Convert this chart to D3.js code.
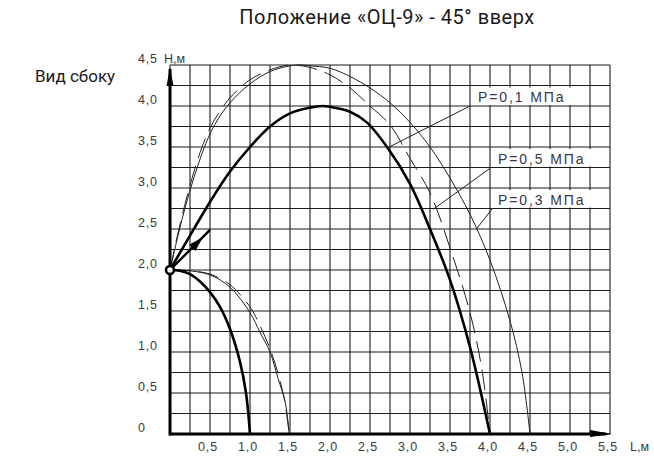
<!DOCTYPE html>
<html><head><meta charset="utf-8">
<script src="https://cdn.jsdelivr.net/npm/d3@7"></script>
<style>
html,body{margin:0;padding:0;background:#fff;}
svg{display:block;}
</style></head>
<body>
<svg id="c" width="654" height="456"></svg>
<script>
// ---- data ----
const title = "Положение «ОЦ-9» - 45° вверх";
const sideLabel = "Вид сбоку";
const xTicks = [0.5,1.0,1.5,2.0,2.5,3.0,3.5,4.0,4.5,5.0,5.5];
const xTickLabels = ["0,5","1,0","1,5","2,0","2,5","3,0","3,5","4,0","4,5","5,0","5,5"];
const yTicks = [0,0.5,1.0,1.5,2.0,2.5,3.0,3.5,4.0,4.5];
const yTickLabels = ["0","0,5","1,0","1,5","2,0","2,5","3,0","3,5","4,0","4,5"];
const xUnit = "L,м", yUnit = "Н,м";

// P=0,1 МПа (thick)
const p1UpL = [0,0.25,0.5,0.75,1.0,1.25,1.5,1.75,1.9,2.0,2.25,2.46,2.72,3.0,3.25,3.5,3.75,4.0];
const p1UpH = [2.0,2.42,2.83,3.2,3.5,3.75,3.91,3.98,4.0,3.99,3.93,3.8,3.49,3.05,2.5,1.88,1.06,0.0];
const p1LoL = [0,0.125,0.25,0.375,0.5,0.625,0.75,0.875,0.95,1.0];
const p1LoH = [2.0,1.99,1.95,1.86,1.73,1.55,1.28,0.88,0.5,0.0];
// P=0,3 МПа (thin)
const p3UpL = [0,0.1,0.2,0.3,0.4,0.5,0.6,0.75,1.0,1.25,1.5,1.65,1.75,2.0,2.25,2.5,2.75,3.0,3.25,3.5,3.75,4.0,4.25,4.4,4.5];
const p3UpH = [2.0,2.42,2.8,3.13,3.42,3.66,3.84,4.04,4.27,4.42,4.49,4.5,4.49,4.46,4.36,4.22,4.04,3.8,3.5,3.12,2.68,2.12,1.38,0.75,0.0];
const p3LoL = [0,0.25,0.5,0.75,1.0,1.125,1.25,1.35,1.44,1.49];
const p3LoH = [2.0,1.99,1.94,1.79,1.48,1.24,1.0,0.68,0.39,0.0];
// P=0,5 МПа (dashed)
const p5UpL = [0,0.1,0.2,0.3,0.4,0.5,0.6,0.75,1.0,1.25,1.5,1.75,2.0,2.25,2.5,2.75,3.0,3.25,3.5,3.75,3.9,4.0];
const p5UpH = [2.0,2.45,2.85,3.2,3.5,3.73,3.9,4.1,4.32,4.44,4.5,4.47,4.38,4.22,4.0,3.77,3.36,2.94,2.27,1.48,0.78,0.0];
const p5LoL = [0,0.25,0.5,0.75,1.0,1.125,1.25,1.35,1.43,1.49];
const p5LoH = [2.0,1.99,1.95,1.82,1.55,1.32,1.04,0.74,0.42,0.0];

const labels = ["P=0,1 МПа","P=0,5 МПа","P=0,3 МПа"];
const labelL = [3.75,4.0,4.0];
const labelH = [4.0,3.25,2.75];
const leaderFromL = [3.75,4.0,4.03];
const leaderFromH = [4.0,3.24,2.75];
const leaderToL = [2.72,3.29,3.83];
const leaderToH = [3.49,2.74,2.5];

// ---- drawing ----
const svg = d3.select("#c");
const x = d3.scaleLinear().domain([0,5.5]).range([170,610]);
const y = d3.scaleLinear().domain([0,4.5]).range([434,65]);

const g = svg.append("g");
g.selectAll("line.v").data(d3.range(0,23).map(i=>i*0.25)).join("line")
  .attr("x1",d=>x(d)).attr("x2",d=>x(d)).attr("y1",y(0)).attr("y2",y(4.5))
  .attr("stroke","#1a1a1a").attr("stroke-width",1.1);
g.selectAll("line.h").data(d3.range(0,19).map(i=>i*0.25)).join("line")
  .attr("x1",x(0)).attr("x2",x(5.5)).attr("y1",d=>y(d)).attr("y2",d=>y(d))
  .attr("stroke","#1a1a1a").attr("stroke-width",1.1);

labels.forEach((t,i)=>{
  svg.append("rect").attr("x",x(labelL[i])+2).attr("y",y(labelH[i]+0.25)+2)
    .attr("width",100).attr("height",y(labelH[i])-y(labelH[i]+0.25)-3)
    .attr("fill","#fff");
});

const line = d3.line().x(d=>x(d[0])).y(d=>y(d[1])).curve(d3.curveCatmullRom.alpha(0.5));
const zip=(a,b)=>a.map((v,i)=>[v,b[i]]);
function curve(L,H,w,dash,col){
  svg.append("path").attr("d",line(zip(L,H))).attr("fill","none")
    .attr("stroke",col).attr("stroke-width",w)
    .attr("stroke-dasharray",dash||null).attr("stroke-linecap","round");
}
curve(p3UpL,p3UpH,1,null,"#222");
curve(p3LoL,p3LoH,1,null,"#222");
curve(p5UpL,p5UpH,1,"20,9","#222");
curve(p5LoL,p5LoH,1,"20,9","#222");
curve(p1UpL,p1UpH,2.6,null,"#000");
curve(p1LoL,p1LoH,2.6,null,"#000");

labels.forEach((t,i)=>{
  svg.append("line").attr("x1",x(leaderFromL[i])).attr("y1",y(leaderFromH[i]))
    .attr("x2",x(leaderToL[i])).attr("y2",y(leaderToH[i]))
    .attr("stroke","#222").attr("stroke-width",1);
});
labels.forEach((t,i)=>{
  svg.append("text").attr("x",x(labelL[i])+8).attr("y",y(labelH[i])-4)
    .attr("font-family","Liberation Sans, Arial, sans-serif").attr("font-size",14)
    .attr("letter-spacing",1.9).attr("fill","#3a3548").text(t);
});

svg.append("line").attr("x1",x(0)).attr("x2",x(5.5)-4).attr("y1",y(0)).attr("y2",y(0))
  .attr("stroke","#000").attr("stroke-width",3);
svg.append("line").attr("x1",x(0)).attr("x2",x(0)).attr("y1",y(0)+1.5).attr("y2",y(4.5)+4)
  .attr("stroke","#000").attr("stroke-width",3);
svg.append("path").attr("d",`M${x(5.5)+2},${y(0)} L${x(5.5)-20},${y(0)-4} L${x(5.5)-20},${y(0)+3} Z`).attr("fill","#000");
svg.append("path").attr("d",`M${x(0)},${y(4.5)+2} L${x(0)-3.5},${y(4.5)+21} L${x(0)+3.5},${y(4.5)+21} Z`).attr("fill","#000");

const ax0=[0,2.0], ax1=[0.5,2.49], ahTip=[0.41,2.4];
svg.append("line").attr("x1",x(ax0[0])).attr("y1",y(ax0[1])).attr("x2",x(ax1[0])).attr("y2",y(ax1[1]))
  .attr("stroke","#000").attr("stroke-width",2.4);
{
  const tx=x(ahTip[0]), ty=y(ahTip[1]);
  const ang=Math.atan2(y(ax1[1])-y(ax0[1]), x(ax1[0])-x(ax0[0]));
  const len=15, hw=4.5;
  const bx=tx-len*Math.cos(ang), by=ty-len*Math.sin(ang);
  const px=-Math.sin(ang)*hw, py=Math.cos(ang)*hw;
  svg.append("path").attr("d",`M${tx},${ty} L${bx+px},${by+py} L${bx-px},${by-py} Z`).attr("fill","#000");
}
svg.append("circle").attr("cx",x(0)).attr("cy",y(2.0)).attr("r",4)
  .attr("fill","#fff").attr("stroke","#000").attr("stroke-width",2.6);

const tf = "Liberation Sans, Arial, sans-serif";
svg.selectAll("text.xt").data(xTicks).join("text")
  .attr("x",d=>x(d)-2).attr("y",y(0)+17).attr("text-anchor","middle")
  .attr("font-family",tf).attr("font-size",12.5).attr("letter-spacing",0.8).attr("fill","#3a3a3a")
  .text((d,i)=>xTickLabels[i]);
svg.append("text").attr("x",x(5.5)+20).attr("y",y(0)+17)
  .attr("font-family",tf).attr("font-size",12.5).attr("fill","#3a3a3a").text(xUnit);
svg.selectAll("text.yt").data(yTicks).join("text")
  .attr("x",138).attr("y",d=>y(d)-2).attr("text-anchor","start")
  .attr("font-family",tf).attr("font-size",12.5).attr("letter-spacing",0.8).attr("fill","#3a3a3a")
  .text((d,i)=>yTickLabels[i]);
svg.append("text").attr("x",x(0)-6).attr("y",y(4.5)-2)
  .attr("font-family",tf).attr("font-size",12.5).attr("fill","#3a3a3a").text(yUnit);

svg.append("text").attr("x",387).attr("y",24).attr("text-anchor","middle")
  .attr("font-family","Roboto, Arial, sans-serif").attr("font-size",20).attr("letter-spacing",0.5).attr("fill","#1a1a1a").text(title);
svg.append("text").attr("x",35).attr("y",82)
  .attr("font-family","Roboto, Arial, sans-serif").attr("font-size",17).attr("fill","#1a1a1a").text(sideLabel);
</script>
</body></html>
